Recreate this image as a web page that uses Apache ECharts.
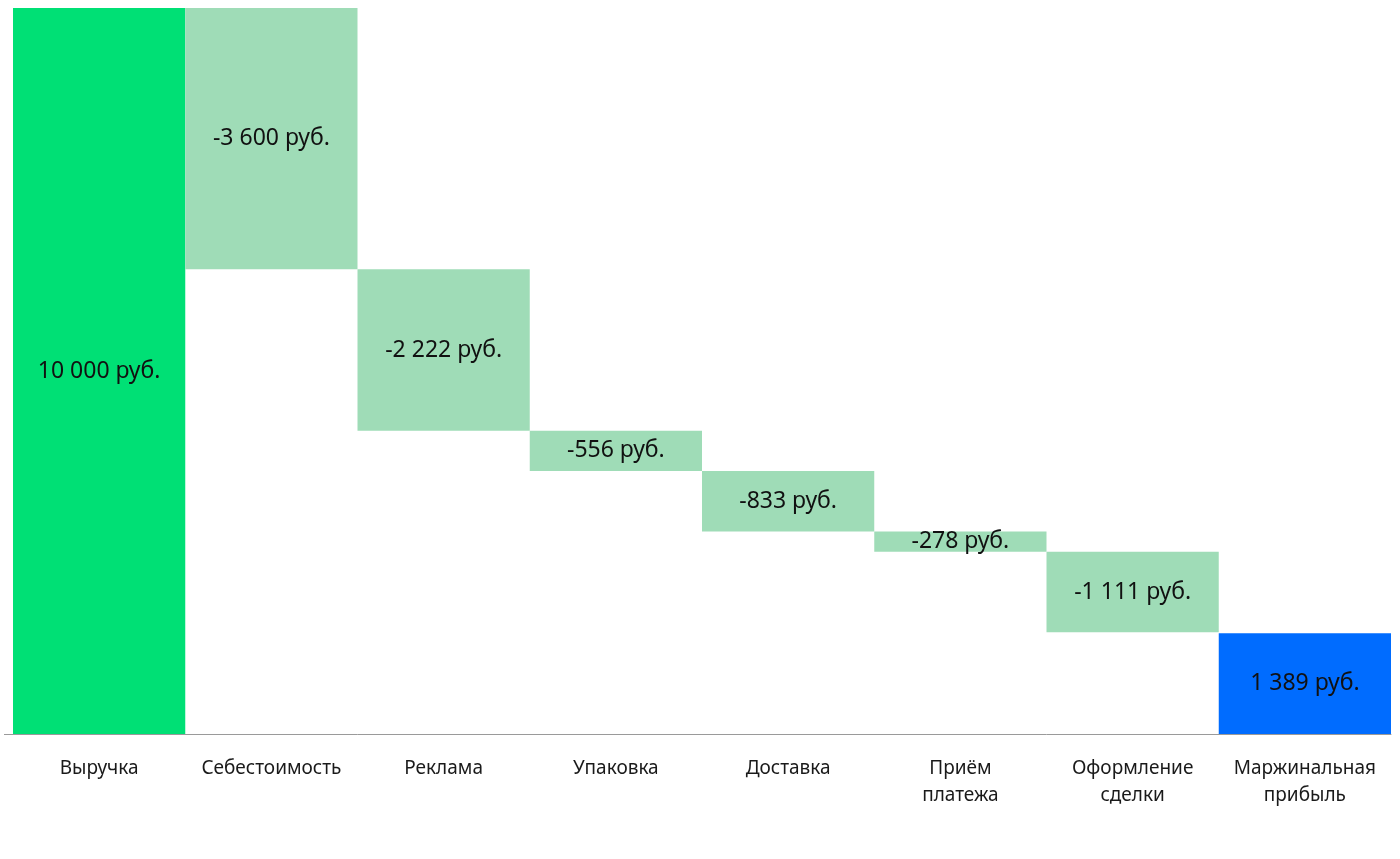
<!DOCTYPE html>
<html><head><meta charset="utf-8">
<script src="https://cdn.jsdelivr.net/npm/echarts@6/dist/echarts.min.js"></script>
<style>html,body{margin:0;padding:0;background:#fff}#c{width:1400px;height:859px}</style>
</head><body><div id="c"></div>
<script>
const categories = ['Выручка','Себестоимость','Реклама','Упаковка','Доставка','Приём\nплатежа','Оформление\nсделки','Маржинальная\nприбыль'];
const values = [10000, -3600, -2222, -556, -833, -278, -1111, 1389];
const kinds = ['total','delta','delta','delta','delta','delta','delta','result'];
const colors = {total:'#00E075', delta:'#9FDCB7', result:'#006CFF'};

// build waterfall base / height
let running = 0;
const baseData = [], barData = [];
values.forEach((v,i)=>{
  if (kinds[i] !== 'delta') { baseData.push(0); barData.push({value:Math.abs(v), raw:v, itemStyle:{color:colors[kinds[i]]}}); running = v; }
  else { running += v; baseData.push(running); barData.push({value:Math.abs(v), raw:v, itemStyle:{color:colors.delta}}); }
});
function fmt(v){
  const s = Math.abs(v).toString().replace(/\B(?=(\d{3})+(?!\d))/g,' ');
  return (v<0?'-':'') + s + ' руб.';
}
const FONT = '"Noto Sans", "Open Sans", sans-serif';
const chart = echarts.init(document.getElementById('c'));
chart.setOption({
  animation:false,
  grid:{left:13,right:9,top:8,bottom:125},
  xAxis:{type:'category',data:categories,
    axisLine:{show:true,lineStyle:{color:'#9a9a9a',width:1}},
    axisTick:{show:false},
    axisLabel:{color:'#1a1a1a',fontFamily:FONT,fontSize:19,lineHeight:27,margin:21,interval:0}},
  yAxis:{type:'value',min:0,max:10000,show:false,splitLine:{show:false}},
  graphic:[{type:'line',shape:{x1:4,y1:734.5,x2:13,y2:734.5},style:{stroke:'#9a9a9a',lineWidth:1}}],
  series:[
    {type:'bar',stack:'w',data:baseData,itemStyle:{color:'transparent'},barCategoryGap:0,silent:true},
    {type:'bar',stack:'w',data:barData,barCategoryGap:0,
      label:{show:true,position:'inside',color:'#111',fontFamily:FONT,fontSize:23,
        formatter:p=>fmt(p.data.raw)}}
  ]
});
</script></body></html>
